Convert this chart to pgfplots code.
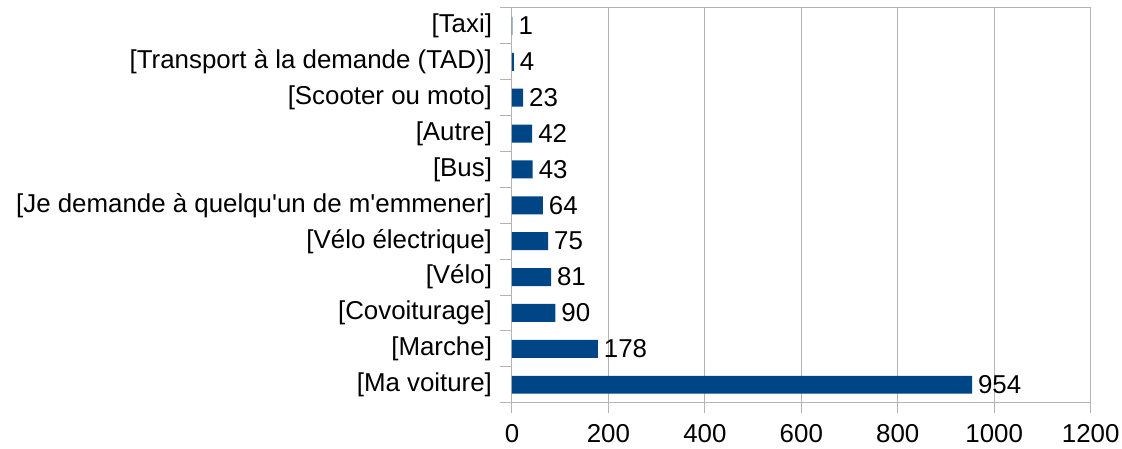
\documentclass[border=0pt]{standalone}
\usepackage{fontspec}
\setmainfont{Liberation Sans}[Ligatures=TeXOff]
\usepackage{pgfplots}
\pgfplotsset{compat=1.18}
\definecolor{barblue}{HTML}{004586}
\definecolor{gridgray}{HTML}{B3B3B3}
\begin{document}
\begin{tikzpicture}
\begin{axis}[
  scale only axis,
  width=434pt, height=296pt,
  anchor=south west, at={(0,0)},
  xbar, bar width=0.5,
  xmin=0, xmax=1200,
  ymin=-0.5, ymax=10.5,
  xtick={0,200,...,1200},
  ytick={0,...,10},
  yticklabels={{[Ma voiture]},{[Marche]},{[Covoiturage]},{[Vélo]},{[Vélo électrique]},{[Je demande à quelqu'un de m'emmener]},{[Bus]},{[Autre]},{[Scooter ou moto]},{[Transport à la demande (TAD)]},{[Taxi]}},
  minor ytick={-0.5,0.5,...,10.5},
  tick pos=left,
  xmajorgrids,
  major grid style={gridgray, line width=0.75pt},
  axis line style={gridgray, line width=0.75pt},
  tick style={gridgray, line width=0.75pt},
  tick align=outside,
  major x tick style={gridgray},
  major y tick style={draw=none},
  minor tick length=9pt,
  major tick length=7.5pt,
  /pgf/number format/assume math mode=true,
  /pgf/number format/1000 sep={},
  tick label style={font=\fontsize{19.4}{21}\selectfont, black},
  yticklabel style={xshift=-4pt},
  xticklabel style={yshift=-5pt},
  nodes near coords,
  nodes near coords style={font=\fontsize{19.4}{21}\selectfont, black, anchor=west, xshift=1pt},
  point meta=explicit symbolic,
]
\addplot[fill=barblue, draw=none] table[meta=v] {
x y v
954 0 954
178 1 178
90 2 90
81 3 81
75 4 75
64 5 64
43 6 43
42 7 42
23 8 23
4 9 4
1 10 1
};
\draw[gridgray, line width=0.75pt] (rel axis cs:0,1) -- (rel axis cs:1,1) -- (rel axis cs:1,0);
\end{axis}
\pgfresetboundingbox
\path[use as bounding box] (-384pt,-34.5pt) rectangle (457.5pt,302pt);
\end{tikzpicture}
\end{document}
